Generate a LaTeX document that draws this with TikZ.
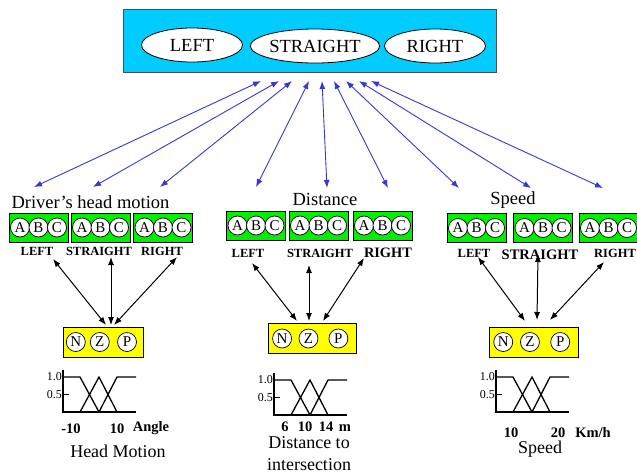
\documentclass[tikz,border=0pt]{standalone}
\usepackage{fontspec}
\setmainfont{Liberation Serif}
\usepackage{xcolor}
\usetikzlibrary{arrows.meta,shapes.geometric}
\definecolor{fzcyan}{HTML}{00CCFF}
\definecolor{fzgreen}{HTML}{00F000}
\definecolor{fzyellow}{HTML}{FFFF00}
\definecolor{fzblue}{HTML}{3838D0}
\tikzset{
fzpanel/.style={rectangle,draw=black!70,fill=fzcyan,line width=1pt,minimum width=373pt,minimum height=63pt,inner sep=0pt},
fzclass/.style={ellipse,draw,fill=white,line width=0.8pt,inner sep=0pt,minimum width=101pt,minimum height=34pt,font=\fontsize{18.5}{20}\selectfont},
fzset/.style={rectangle,draw,fill=fzgreen,line width=0.9pt,minimum width=59pt,minimum height=29pt,inner sep=0pt},
fzterm/.style={circle,draw,fill=white,line width=0.7pt,inner sep=0pt,minimum size=19pt,font=\fontsize{15}{15}\selectfont},
fzout/.style={rectangle,draw,fill=fzyellow,line width=0.9pt,minimum height=30pt,inner sep=0pt},
fztitle/.style={font=\fontsize{18.5}{20}\selectfont,anchor=base,inner sep=0pt},
fzcaption/.style={font=\fontsize{18}{20}\selectfont,anchor=base,inner sep=0pt},
fzlabel/.style={font=\bfseries\fontsize{12.5}{13}\selectfont,anchor=base,inner sep=0pt},
fzunit/.style={font=\bfseries\fontsize{14.5}{15}\selectfont,anchor=base,inner sep=0pt},
fztick/.style={font=\fontsize{12}{12}\selectfont,inner sep=1pt,anchor=east},
fzaxis/.style={line width=1.4pt},
fzmf/.style={line width=1.3pt},
fzlink/.style={{Latex[length=8pt,width=6pt]}-{Latex[length=8pt,width=6pt]},draw=fzblue,line width=0.9pt},
fzrule/.style={{Latex[length=8pt,width=6pt]}-{Latex[length=8pt,width=6pt]},line width=1pt}
}

% green input set: box with the three A/B/C terms
\newcommand{\abcset}[3]{%
  \node[fzset] (#1) at (#2,#3) {};
  \node[fzterm] (#1a) at ([xshift=-18.5pt]#1.center) {A};
  \node[fzterm] (#1b) at (#1.center) {B};
  \node[fzterm] (#1c) at ([xshift=18.5pt]#1.center) {C};
}
% yellow fuzzifier box with N/Z/P terms, #4 = width
\newcommand{\nzpset}[4]{%
  \node[fzout,minimum width=#4pt] (#1) at (#2,#3) {};
  \node[fzterm] (#1n) at ([xshift={-0.34*#4pt}]#1.center) {N};
  \node[fzterm] (#1z) at ([xshift={-0.04*#4pt}]#1.center) {Z};
  \node[fzterm] (#1p) at ([xshift={0.30*#4pt}]#1.center) {P};
}
% membership functions, origin at (#2,#3)
\newcommand{\mfchart}[3]{%
  \begin{scope}[shift={(#2,#3)}]
    \draw[fzaxis] (0,-42) -- (0,0) -- (73,0);
    \draw[fzaxis] (0,-17.5) -- (6,-17.5);
    \draw[fzmf] (0,-35) -- (17,-35) -- (36,0);
    \draw[fzmf] (17,0) -- (36,-35) -- (54,0);
    \draw[fzmf] (36,0) -- (54,-35) -- (73,-35);
    \node[fztick] (#1one) at (0,-35) {1.0};
    \node[fztick] (#1half) at (0,-17.5) {0.5};
  \end{scope}
}

\begin{document}
\begin{tikzpicture}[x=1pt,y=-1pt]
\useasboundingbox (0,0) rectangle (637,475);

% output decision
\node[fzpanel] (decision) at (309.5,40.5) {};
\node[fzclass] (left) at (192,45) {LEFT};
\node[fzclass] (straight) at (315,46) {STRAIGHT};
\node[fzclass] (right) at (435,46) {RIGHT};

% input groups
\node[fztitle] (hmtitle) at (90.5,208) {Driver's head motion};
\node[fztitle] (dstitle) at (325,205) {Distance};
\node[fztitle] (sptitle) at (513,204) {Speed};

\abcset{hmleft}{38.5}{227.5}
\abcset{hmstraight}{100.5}{227.5}
\abcset{hmright}{163}{227.5}
\abcset{dsleft}{256}{225.5}
\abcset{dsstraight}{318.5}{225.5}
\abcset{dsright}{382.5}{225.5}
\abcset{spleft}{476.5}{228}
\abcset{spstraight}{543}{228}
\abcset{spright}{608.5}{228}

\node[fzlabel] (hmleftlbl) at (37,255) {LEFT};
\node[fzlabel] (hmstraightlbl) at (99,255) {STRAIGHT};
\node[fzlabel] (hmrightlbl) at (162,255) {RIGHT};
\node[fzlabel] (dsleftlbl) at (248,257) {LEFT};
\node[fzlabel] (dsstraightlbl) at (320,257) {STRAIGHT};
\node[fzlabel,font=\bfseries\fontsize{14.4}{15}\selectfont] (dsrightlbl) at (388,257) {RIGHT};
\node[fzlabel] (spleftlbl) at (474,257) {LEFT};
\node[fzlabel,font=\bfseries\fontsize{14.5}{15}\selectfont] (spstraightlbl) at (540,259) {STRAIGHT};
\node[fzlabel] (sprightlbl) at (615,257) {RIGHT};

% fuzzifiers
\nzpset{hmout}{103}{342}{80}
\nzpset{dsout}{312}{338.5}{88}
\nzpset{spout}{533.5}{342}{89}

% membership charts
\mfchart{hmmf}{63}{412}
\mfchart{dsmf}{274}{415}
\mfchart{spmf}{496}{412}

\node[fzunit] (hmlow) at (71,433) {-10};
\node[fzunit] (hmhigh) at (117,433) {10};
\node[fzunit] (hmunit) at (151,431) {Angle};
\node[fzcaption] (hmcap) at (118,457) {Head Motion};

\node[fzunit] (dslow) at (285,431) {6};
\node[fzunit] (dsmid) at (305,431) {10};
\node[fzunit] (dshigh) at (326,431) {14};
\node[fzunit] (dsunit) at (345,431) {m};
\node[fzcaption] (dscap) at (309,448) {Distance to};
\node[fzcaption] (dscaptwo) at (309,470.5) {intersection};

\node[fzunit] (splow) at (511,437) {10};
\node[fzunit] (sphigh) at (558,437) {20};
\node[fzunit] (spunit) at (593,437) {Km/h};
\node[fzcaption] (spcap) at (540,453) {Speed};

% blue links to the decision panel
\coordinate (top1) at (261,81);
\coordinate (top2) at (279,81);
\coordinate (top3) at (292,81);
\coordinate (top4) at (309,81);
\coordinate (top5) at (322,81);
\coordinate (top6) at (334,81);
\coordinate (top7) at (346,81);
\coordinate (top8) at (359,81);
\coordinate (top9) at (371,81);
\coordinate (hmin1) at (34,187);
\coordinate (hmin2) at (93,187);
\coordinate (hmin3) at (160,187);
\coordinate (dsin1) at (256,187);
\coordinate (dsin2) at (327,188);
\coordinate (dsin3) at (388,188);
\coordinate (spin1) at (459,188);
\coordinate (spin2) at (531,188);
\coordinate (spin3) at (603,188);
\draw[fzlink] (hmin1)--(top1);
\draw[fzlink] (hmin2)--(top2);
\draw[fzlink] (hmin3)--(top3);
\draw[fzlink] (dsin1)--(top4);
\draw[fzlink] (dsin2)--(top5);
\draw[fzlink] (dsin3)--(top6);
\draw[fzlink] (spin1)--(top7);
\draw[fzlink] (spin2)--(top8);
\draw[fzlink] (spin3)--(top9);

% black rules between labels and fuzzifiers
\coordinate (hmr1) at (53,259);
\coordinate (hmr2) at (111,257);
\coordinate (hmr3) at (177,257);
\coordinate (hmo1) at (106,325);
\coordinate (hmo2) at (111,325);
\coordinate (hmo3) at (114,325);
\coordinate (dsr1) at (252,263);
\coordinate (dsr2) at (309,265);
\coordinate (dsr3) at (364,258);
\coordinate (dso1) at (297,321);
\coordinate (dso2) at (309,321);
\coordinate (dso3) at (323,321);
\coordinate (spr1) at (478,257);
\coordinate (spr2) at (538,254);
\coordinate (spr3) at (604,262);
\coordinate (spo1) at (525,321);
\coordinate (spo2) at (537,320);
\coordinate (spo3) at (550,320);
\draw[fzrule] (hmr1)--(hmo1);
\draw[fzrule] (hmr2)--(hmo2);
\draw[fzrule] (hmr3)--(hmo3);
\draw[fzrule] (dsr1)--(dso1);
\draw[fzrule] (dsr2)--(dso2);
\draw[fzrule] (dsr3)--(dso3);
\draw[fzrule] (spr1)--(spo1);
\draw[fzrule] (spr2)--(spo2);
\draw[fzrule] (spr3)--(spo3);
\end{tikzpicture}
\end{document}
